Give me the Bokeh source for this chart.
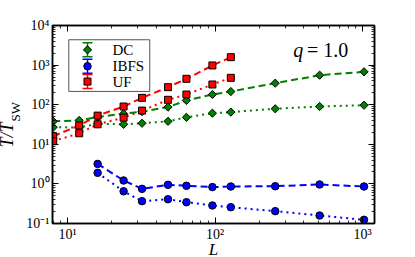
import math
from bokeh.plotting import figure
from bokeh.models import (Range1d, LinearScale, LogAxis, LogTicker,
                          CustomJSTickFormatter, Title)
from bokeh.core.properties import value
from bokeh.embed import file_html
from bokeh.resources import INLINE

# ---------------- data ----------------
L_dc = [8, 12, 16, 24, 32, 48, 64, 96, 128, 256, 512, 1024]
dc_dashed = [38, 40, 49, 59, 67, 87, 128, 181, 215, 349, 556, 677]
dc_dotted = [27, 26.5, 33, 32, 34, 38, 48, 61, 65, 79, 90, 97]

L_ib = [16, 24, 32, 48, 64, 96, 128, 256, 512, 1024]
ib_dashed = [3.2, 1.22, 0.75, 0.95, 0.895, 0.83, 0.86, 0.875, 0.966, 0.86]
ib_dotted = [1.9, 0.65, 0.366, 0.41, 0.345, 0.285, 0.258, 0.205, 0.159, 0.124]

L_uf = [8, 12, 16, 24, 32, 48, 64, 96, 128]
uf_dashed = [16, 30, 53, 90, 149, 277, 451, 980, 1585]
uf_dotted = [12, 19, 32, 47, 71, 133, 181, 324, 477]

legend_names = ["DC", "IBFS", "UF"]
annotation_text = "= 1.0"

# ---------------- styling ----------------
GREEN = "#008000"
BLUE = "#0000ff"
RED = "#ff0000"
SERIF = "Liberation Serif"
DASH = "7 4"
DOT = "2 4"

p = figure(width=415, height=257, x_axis_type="log", y_axis_type="log",
           x_range=Range1d(7.91, 1206), y_range=Range1d(0.09995, 10005),
           output_backend="svg", toolbar_location=None,
           min_border_left=52, min_border_right=41, min_border_top=25,
           min_border_bottom=34)
p.background_fill_color = "white"
p.border_fill_color = "white"
p.outline_line_color = "black"
p.outline_line_width = 1.5
p.xgrid.visible = False
p.ygrid.visible = False

p.extra_x_ranges = {"fx": Range1d(0, 1)}
p.extra_y_ranges = {"fy": Range1d(0, 1)}
p.extra_x_scales = {"fx": LinearScale()}
p.extra_y_scales = {"fy": LinearScale()}

fmt = CustomJSTickFormatter(code="""
const sup = {"-":"\u207b","0":"\u2070","1":"\u00b9","2":"\u00b2","3":"\u00b3",
             "4":"\u2074","5":"\u2075","6":"\u2076","7":"\u2077","8":"\u2078","9":"\u2079"};
const e = Math.round(Math.log10(tick));
return "10" + String(e).split("").map(c => sup[c]).join("");
""")
blank = CustomJSTickFormatter(code="return '';")


def style_axis(ax, labels=True):
    ax.major_tick_in = 6
    ax.major_tick_out = 0
    ax.minor_tick_in = 3
    ax.minor_tick_out = 0
    ax.axis_line_color = "black"
    ax.axis_line_width = 1.5
    ax.major_tick_line_color = "black"
    ax.minor_tick_line_color = "black"
    ax.major_tick_line_width = 1
    ax.minor_tick_line_width = 0.8
    if labels:
        ax.formatter = fmt
        ax.major_label_text_font = SERIF
        ax.major_label_text_font_size = "14px"
        ax.major_label_text_color = "black"
        ax.major_label_standoff = 3
    else:
        ax.formatter = blank
        ax.major_label_text_font_size = "6px"
        ax.major_label_text_color = None
        ax.major_label_standoff = 0


style_axis(p.xaxis[0])
style_axis(p.yaxis[0])
top_ax = LogAxis(ticker=LogTicker(num_minor_ticks=10))
right_ax = LogAxis(ticker=LogTicker(num_minor_ticks=10))
style_axis(top_ax, labels=False)
style_axis(right_ax, labels=False)
p.add_layout(top_ax, "above")
p.add_layout(right_ax, "right")

# x axis label "L" as a title below the axis
t_l = Title(text="L", align="center", vertical_align="top", standoff=-10,
            text_font=SERIF, text_font_size="17px", text_font_style="italic",
            text_color="black")
p.add_layout(t_l, "below")

# y axis label: "T/T" with subscript "SW", as two titles on the left side
t_sw = Title(text="SW", align="left", offset=102, vertical_align="bottom",
             standoff=1, text_font=SERIF, text_font_size="13px",
             text_font_style="normal", text_color="black")
t_tt = Title(text="T/T", align="left", offset=76, vertical_align="bottom",
             standoff=-23, text_font=SERIF, text_font_size="18px",
             text_font_style="italic", text_color="black")
p.add_layout(t_sw, "left")
p.add_layout(t_tt, "left")

# ---------------- series ----------------
def series(xs, ys, color, dash, marker, size, angle=0.0):
    p.line(xs, ys, line_color=color, line_width=2, line_dash=dash)
    p.scatter(xs, ys, marker=marker, size=size, angle=angle,
              fill_color=color, line_color="black", line_width=1)


series(L_dc, dc_dashed, GREEN, DASH, "square", 5.8, math.pi / 4)
series(L_dc, dc_dotted, GREEN, DOT, "square", 5.8, math.pi / 4)
series(L_ib, ib_dashed, BLUE, DASH, "circle", 7.5)
series(L_ib, ib_dotted, BLUE, DOT, "circle", 7.5)
series(L_uf, uf_dashed, RED, DASH, "square", 7)
series(L_uf, uf_dotted, RED, DOT, "square", 7)

# ---------------- legend (drawn in frame-fraction coordinates) ----------------
p.quad(left=[0.0506], right=[0.302], bottom=[0.667], top=[0.928],
       fill_color="white", line_color="#555555", line_width=1,
       x_range_name="fx", y_range_name="fy")
leg_y = [0.877, 0.794, 0.717]
leg_col = [GREEN, BLUE, RED]
leg_mark = ["square", "circle", "square"]
leg_size = [5.8, 7.5, 7]
leg_ang = [math.pi / 4, 0.0, 0.0]
gx, dx, dy = 0.1087, 0.0155, 0.0354
for name, yy, c, m, s, a in zip(legend_names, leg_y, leg_col, leg_mark, leg_size, leg_ang):
    p.segment(x0=[gx, gx - dx, gx - dx], y0=[yy - dy, yy - dy, yy + dy],
              x1=[gx, gx + dx, gx + dx], y1=[yy + dy, yy - dy, yy + dy],
              line_color=c, line_width=1.5, x_range_name="fx", y_range_name="fy")
    p.scatter([gx], [yy], marker=m, size=s, angle=a, fill_color=c,
              line_color="black", line_width=1, x_range_name="fx", y_range_name="fy")
    p.text([0.186], [yy], text=[name], text_font=value(SERIF),
           text_font_size=value("15px"), text_baseline="middle",
           text_color="black", x_range_name="fx", y_range_name="fy")

# q = 1.0
p.text([0.748], [0.874], text=["q"], text_font=value(SERIF), text_font_style="italic",
       text_font_size=value("20px"), text_baseline="alphabetic",
       x_range_name="fx", y_range_name="fy")
p.text([0.790], [0.874], text=[annotation_text], text_font=value(SERIF),
       text_font_size=value("20px"), text_baseline="alphabetic",
       x_range_name="fx", y_range_name="fy")

open("out.html", "w").write(file_html(p, INLINE))
